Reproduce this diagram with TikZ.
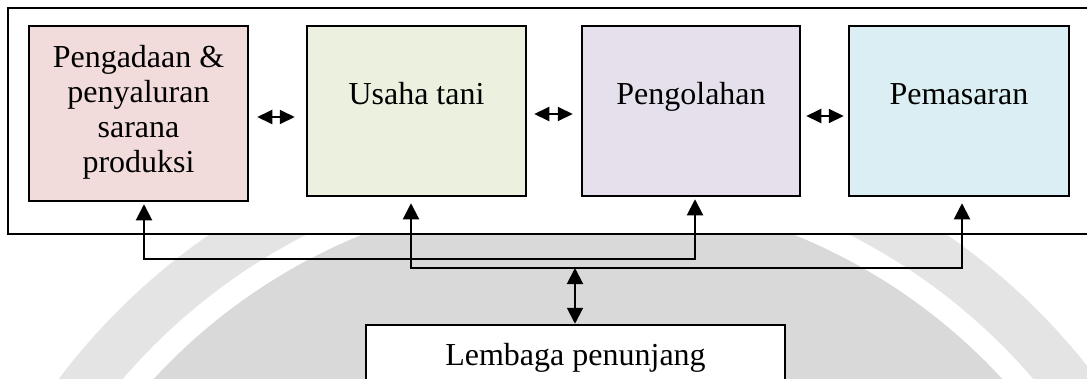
\documentclass[tikz,border=0pt]{standalone}
\usepackage{fontspec}
\setmainfont{Liberation Serif}
\usetikzlibrary{arrows.meta,calc}
\definecolor{pinkbox}{HTML}{F2DCDB}
\definecolor{greenbox}{HTML}{EBF1DE}
\definecolor{purplebox}{HTML}{E5E0EC}
\definecolor{bluebox}{HTML}{DBEEF3}
\definecolor{wmgray}{HTML}{D9D9D9}
\definecolor{wmlight}{HTML}{E4E4E4}
\begin{document}
\begin{tikzpicture}[x=1pt,y=-1pt,
  stage/.style={draw=black,line width=2.5pt,minimum width=219pt,minimum height=170pt,inner sep=0pt},
  lbl/.style={font=\fontsize{32}{35}\selectfont,inner sep=0pt,align=center},
  link/.style={line width=2pt},
  tipboth/.style={{Triangle[length=16pt,width=16pt]}-{Triangle[length=16pt,width=16pt]}},
  tiph/.style={{Triangle[length=15pt,width=14pt]}-{Triangle[length=15pt,width=14pt]}},
 ]
\useasboundingbox (0,0) rectangle (1087,378);
% watermark disc
\fill[wmlight] (578,770) circle[radius=650pt];
\fill[white] (578,770) circle[radius=600pt];
\fill[wmgray] (578,770) circle[radius=577pt];
% frame
\node[draw, fill=white, line width=2pt, minimum width=1092pt, minimum height=226pt, inner sep=0pt] (frame) at (554,121) {};
% stages
\node[stage, fill=pinkbox, minimum height=175pt] (b1) at (138.5,113.5) {};
\node[stage, fill=greenbox] (b2) at (416.5,111) {};
\node[stage, fill=purplebox, minimum width=218pt] (b3) at (691,111) {};
\node[stage, fill=bluebox, minimum width=220pt] (b4) at (959,111) {};
\node[lbl] (t1) at (138.5,112) {Pengadaan \&\\penyaluran\\sarana\\produksi};
\node[lbl, anchor=base] (t2) at (416.5,104) {Usaha tani};
\node[lbl, anchor=base] (t3) at (691,104) {Pengolahan};
\node[lbl, anchor=base] (t4) at (959,104) {Pemasaran};
% support box
\node[draw, fill=white, line width=2.5pt, minimum width=419pt, minimum height=66pt, inner sep=0pt] (lem) at (575.5,358) {};
\node[lbl, anchor=base] (t5) at (575.5,365) {Lembaga penunjang};
% horizontal double arrows
\coordinate (h1) at (0,117);
\coordinate (h2) at (0,114);
\coordinate (h3) at (0,116);
\draw[link, tiph, shorten <=8pt, shorten >=11pt] (b1.east |- h1) -- (b2.west |- h1);
\draw[link, tiph, shorten <=7pt, shorten >=8pt] (b2.east |- h2) -- (b3.west |- h2);
\draw[link, tiph, shorten <=5pt, shorten >=4pt] (b3.east |- h3) -- (b4.west |- h3);
% lower connectors
\coordinate (a1) at (144,259);
\coordinate (a3) at (695,259);
\coordinate (c2) at (411,268);
\coordinate (c4) at (962,268);
\coordinate (m) at (575,268);
\draw[link, tipboth, shorten <=2pt, shorten >=2pt] (b1.south -| a1) -- (a1) -- (a3) -- (b3.south -| a3);
\draw[link, tipboth, shorten <=6pt, shorten >=6pt] (b2.south -| c2) -- (c2) -- (c4) -- (b4.south -| c4);
\draw[link, tipboth] (m) -- (lem.north -| m);
\end{tikzpicture}
\end{document}
